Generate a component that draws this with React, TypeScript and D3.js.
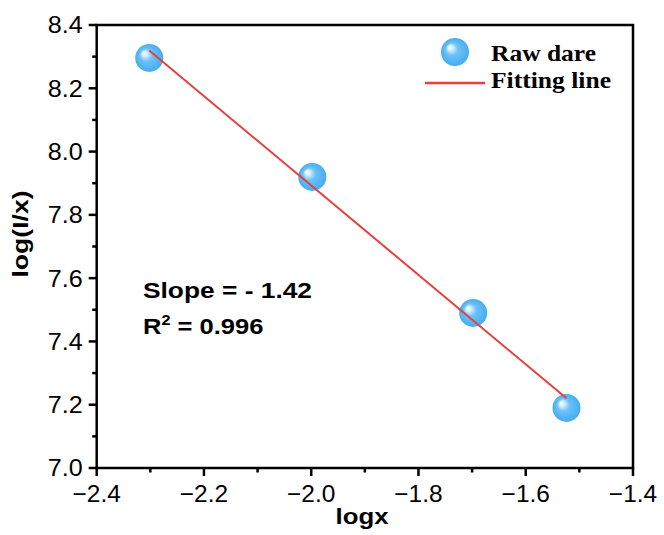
import React from "react";
import * as d3 from "d3";

const logx = [-2.302, -1.998, -1.698, -1.524];
const logIx = [8.296, 7.92, 7.49, 7.19];
const xTicks = [-2.4, -2.2, -2.0, -1.8, -1.6, -1.4];
const yTicks = [7.0, 7.2, 7.4, 7.6, 7.8, 8.0, 8.2, 8.4];
const legendLabels = ["Raw dare", "Fitting line"];
const annotation = ["Slope = - 1.42", "0.996"];

const W = 664, H = 535;
const M = { left: 96.7, right: 31, top: 25, bottom: 67 };

export default function App() {
  const x = d3.scaleLinear().domain([-2.4, -1.4]).range([M.left, W - M.right]);
  const y = d3.scaleLinear().domain([7.0, 8.4]).range([H - M.bottom, M.top]);
  const mx = d3.mean(logx)!, my = d3.mean(logIx)!;
  const sxy = d3.sum(logx.map((v, i) => (v - mx) * (logIx[i] - my)));
  const sxx = d3.sum(logx.map((v) => (v - mx) ** 2));
  const slope = sxy / sxx, icpt = my - slope * mx;
  const x0 = d3.min(logx)!, x1 = d3.max(logx)!;
  const fit = d3.line<number>().x((d) => x(d)).y((d) => y(icpt + slope * d))([x0, x1]);
  const xMinor = xTicks.slice(0, -1).map((t) => t + 0.1);
  const yMinor = yTicks.slice(0, -1).map((t) => t + 0.1);
  const fontSans = "Arial, 'Liberation Sans', sans-serif";
  const fontSerif = "'Times New Roman', 'Liberation Serif', serif";
  const x2 = W - M.right, yb = H - M.bottom;
  return (
    <svg width={W} height={H} style={{ position: "absolute", left: 0, top: 0, background: "#fff" }}>
      <defs>
        <radialGradient id="ball" cx="0.5" cy="0.5" r="0.5" fx="0.3" fy="0.32">
          <stop offset="0" stopColor="#ffffff" />
          <stop offset="0.18" stopColor="#d6eefc" />
          <stop offset="0.45" stopColor="#6cc2f6" />
          <stop offset="1" stopColor="#45acf0" />
        </radialGradient>
      </defs>
      {xTicks.map((t) => (
        <line key={"xt" + t} x1={x(t)} x2={x(t)} y1={yb} y2={yb + 8} stroke="#000" strokeWidth={2.5} />
      ))}
      {xMinor.map((t) => (
        <line key={"xm" + t} x1={x(t)} x2={x(t)} y1={yb} y2={yb + 4.5} stroke="#000" strokeWidth={2.5} />
      ))}
      {yTicks.map((t) => (
        <line key={"yt" + t} x1={M.left - 8} x2={M.left} y1={y(t)} y2={y(t)} stroke="#000" strokeWidth={2.5} />
      ))}
      {yMinor.map((t) => (
        <line key={"ym" + t} x1={M.left - 4.5} x2={M.left} y1={y(t)} y2={y(t)} stroke="#000" strokeWidth={2.5} />
      ))}
      <rect x={M.left} y={M.top} width={x2 - M.left} height={yb - M.top} fill="none" stroke="#000" strokeWidth={2.5} />
      {xTicks.map((t) => (
        <text key={"xl" + t} x={x(t)} y={yb + 34} textAnchor="middle" fontFamily={fontSans} fontSize={23.5}
          transform={`translate(${x(t)},0) scale(1.04,1) translate(${-x(t)},0)`}>
          {d3.format(".1f")(t).replace("-", "\u2212")}
        </text>
      ))}
      {yTicks.map((t) => (
        <text key={"yl" + t} x={M.left - 14} y={y(t) + 8.5} textAnchor="end" fontFamily={fontSans} fontSize={23.5}
          transform={`translate(${M.left - 14},0) scale(1.07,1) translate(${-(M.left - 14)},0)`}>
          {d3.format(".1f")(t)}
        </text>
      ))}
      <text x={362} y={524} textAnchor="middle" fontFamily={fontSans} fontWeight="bold" fontSize={22}
        textLength={53} lengthAdjust="spacingAndGlyphs">
        logx
      </text>
      <text transform={`translate(28,234) rotate(-90)`} textAnchor="middle" fontFamily={fontSans} fontWeight="bold" fontSize={22}
        textLength={87} lengthAdjust="spacingAndGlyphs">
        log(I/x)
      </text>
      {logx.map((v, i) => (
        <circle key={"p" + i} cx={x(v)} cy={y(logIx[i])} r={14} fill="url(#ball)" />
      ))}
      <path d={fit!} stroke="#e5403e" strokeWidth={2} fill="none" />
      <circle cx={455} cy={52} r={14} fill="url(#ball)" />
      <text x={491} y={61} fontFamily={fontSerif} fontWeight="bold" fontSize={22.6}
        textLength={105} lengthAdjust="spacingAndGlyphs">{legendLabels[0]}</text>
      <line x1={425} x2={485} y1={83} y2={83} stroke="#e5403e" strokeWidth={2.5} />
      <text x={491} y={88} fontFamily={fontSerif} fontWeight="bold" fontSize={22.6}
        textLength={120} lengthAdjust="spacingAndGlyphs">{legendLabels[1]}</text>
      <text x={143} y={298} fontFamily={fontSans} fontWeight="bold" fontSize={22}
        textLength={169} lengthAdjust="spacingAndGlyphs">{annotation[0]}</text>
      <g transform="translate(143,334) scale(1.16,1)">
        <text x={0} y={0} fontFamily={fontSans} fontWeight="bold" fontSize={22}>
          R<tspan dy={-9} fontSize={14}>2</tspan><tspan dy={9}>{" = " + annotation[1]}</tspan>
        </text>
      </g>
    </svg>
  );
}
